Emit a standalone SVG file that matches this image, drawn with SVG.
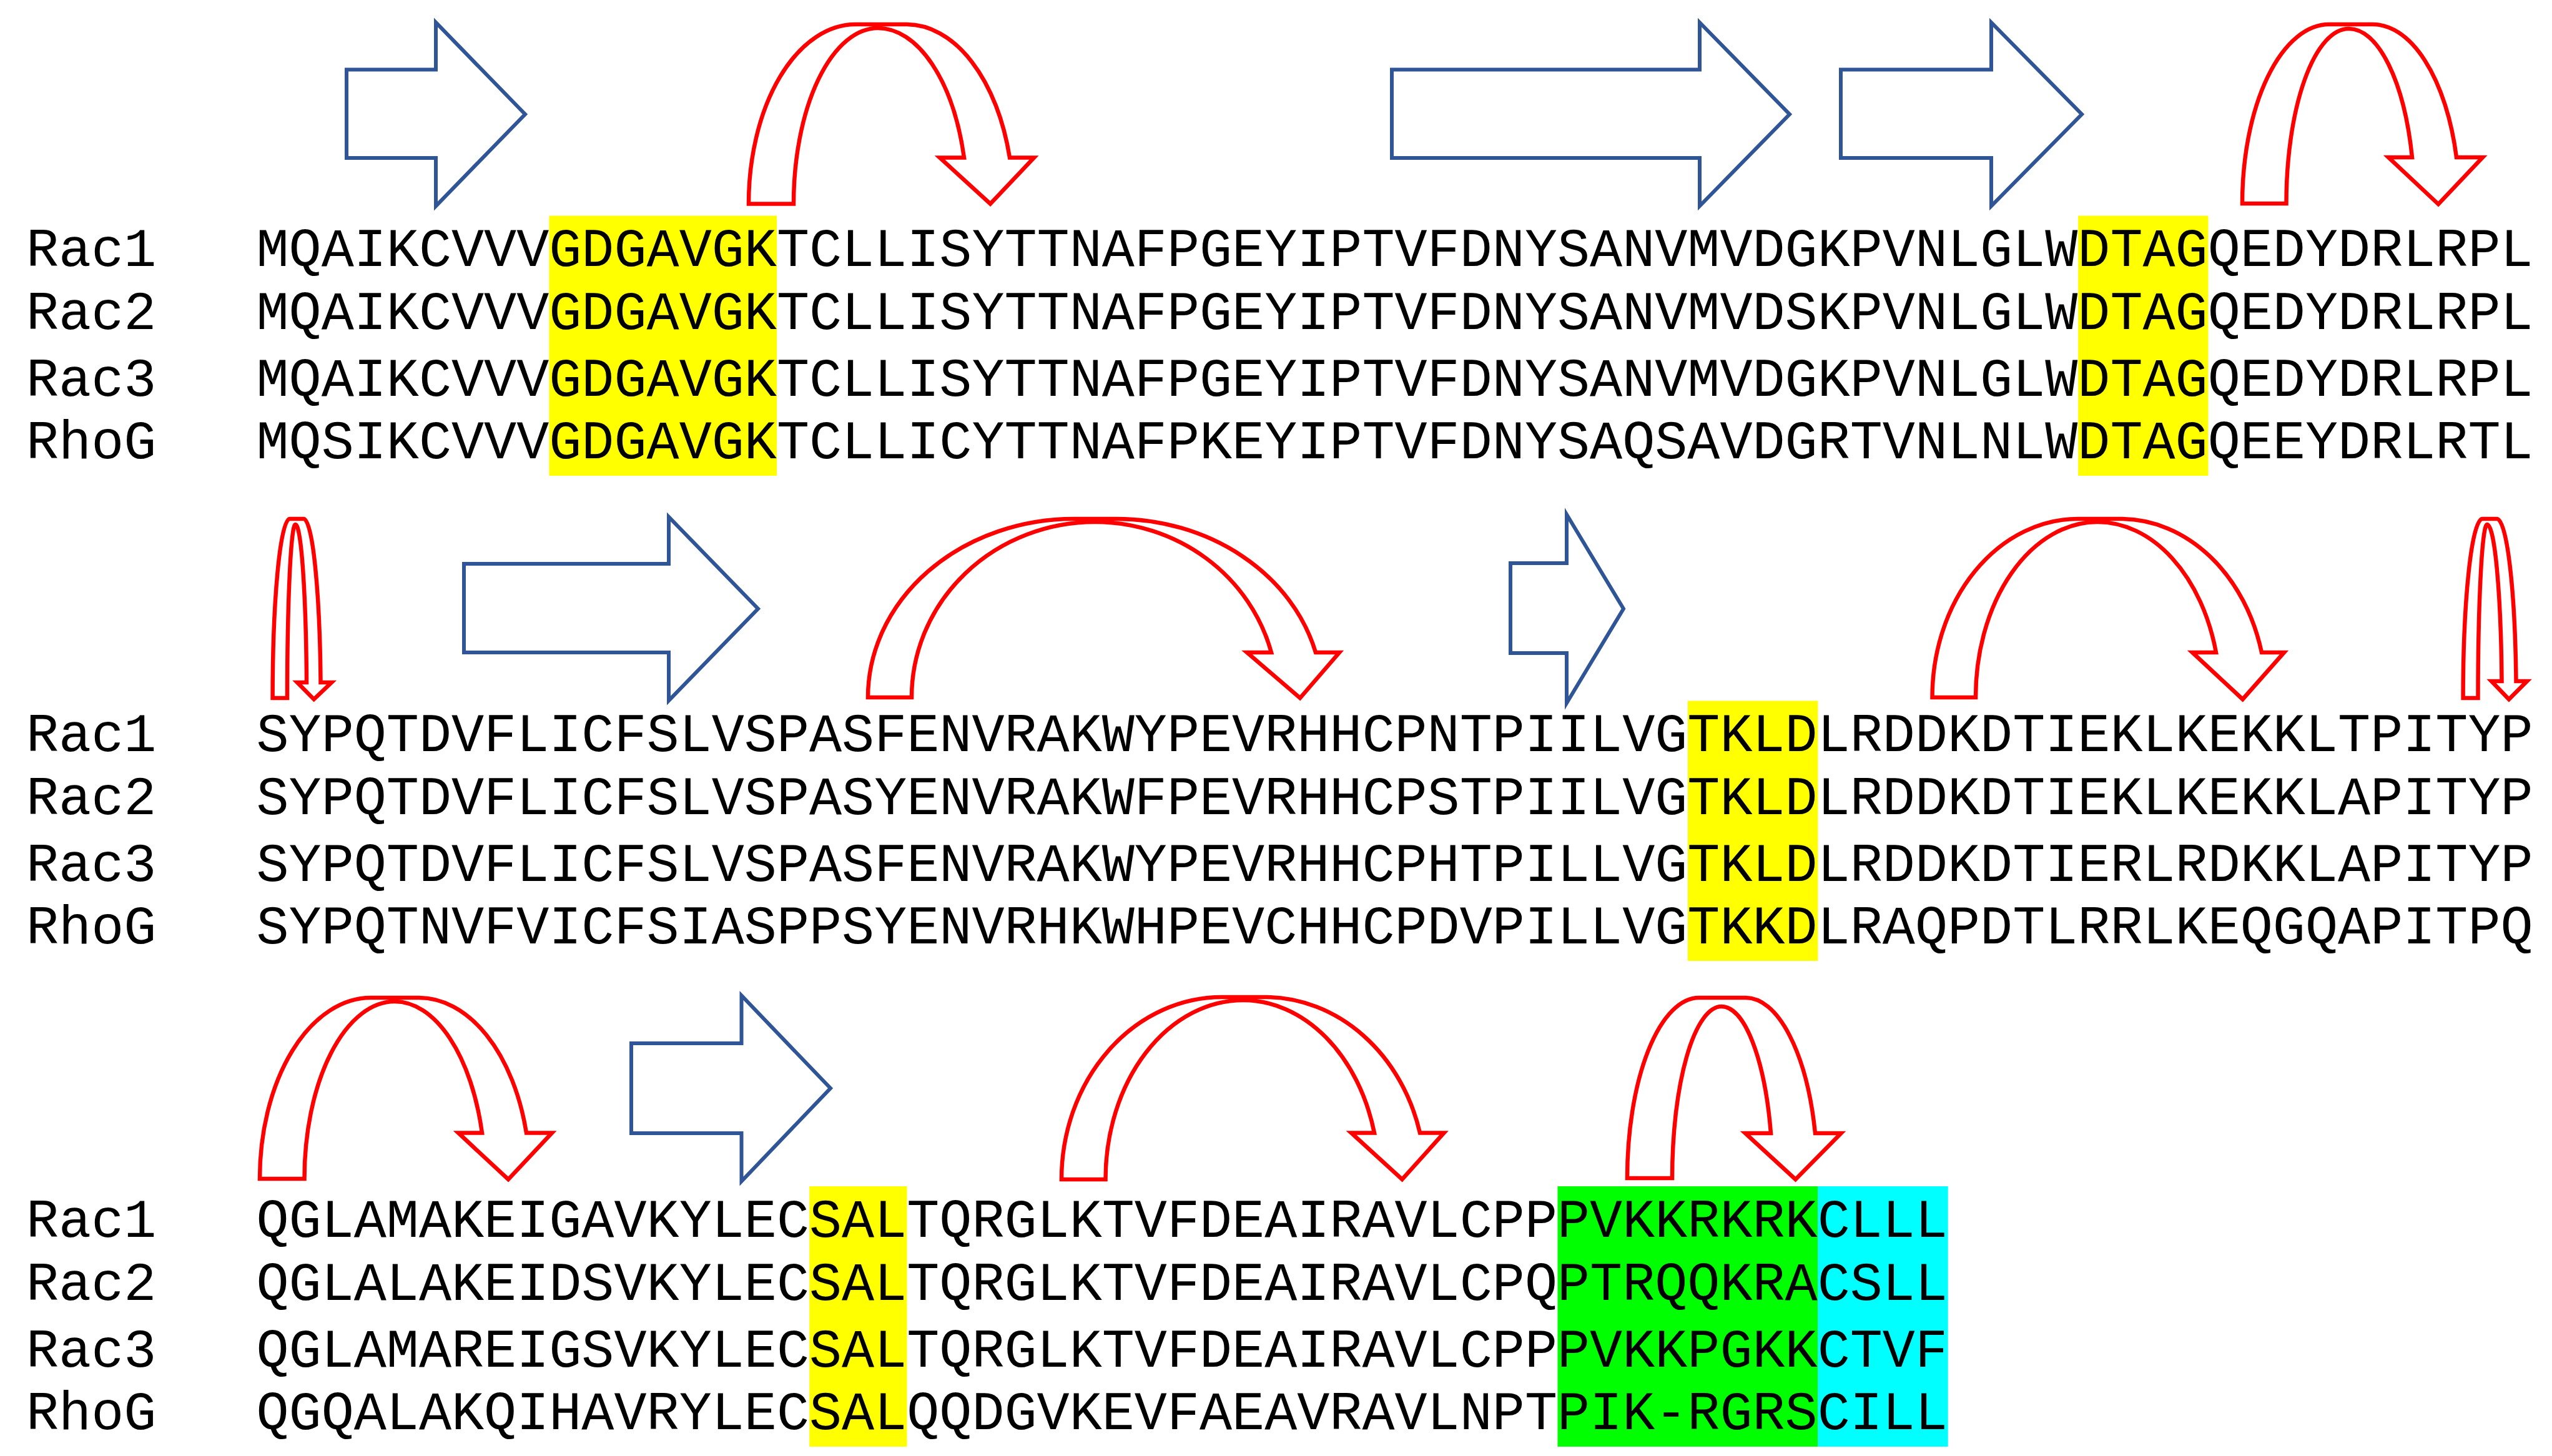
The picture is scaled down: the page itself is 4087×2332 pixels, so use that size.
<svg xmlns="http://www.w3.org/2000/svg" width="4087" height="2332" viewBox="0 0 4087 2332">
<style>
.t{font-family:"Liberation Mono","Courier New",monospace;font-size:86.8px;fill:#000}
.r{fill:#fff;stroke:#f00;stroke-width:6.5;stroke-linejoin:miter}
.b{fill:#fff;stroke:#2F5597;stroke-width:6;stroke-linejoin:miter}
.y{fill:#ff0}
.g{fill:#0f0}
.c{fill:#0ff}
</style>
<rect width="4087" height="2332" fill="#fff"/>
<g id="highlights">
<rect class="y" x="879.4" y="345.5" width="364.7" height="416.5"/>
<rect class="y" x="3328.1" y="345.5" width="208.4" height="416.5"/>
<rect class="y" x="2702.9" y="1122.5" width="208.4" height="416.5"/>
<rect class="y" x="1296.2" y="1900" width="156.3" height="417"/>
<rect class="g" x="2494.5" y="1900" width="416.8" height="417"/>
<rect class="c" x="2911.3" y="1900" width="208.4" height="417"/>
</g>
<g id="strands">
<polygon class="b" points="555,111.5 698,111.5 698,36 841,183 698,330 698,253 555,253"/>
<polygon class="b" points="2229,111.5 2722,111.5 2722,36 2866,183 2722,330 2722,253 2229,253"/>
<polygon class="b" points="2948,111.5 3189,111.5 3189,36 3334,183 3189,330 3189,253 2948,253"/>
<polygon class="b" points="743,903 1071,903 1071,828 1214,975 1071,1122 1071,1045 743,1045"/>
<polygon class="b" points="2419,902 2509,902 2509,824 2600,975 2509,1126 2509,1046 2419,1046"/>
<polygon class="b" points="1011,1671 1187.5,1671 1187.5,1594.5 1330,1743 1187.5,1892 1187.5,1815 1011,1815"/>
</g>
<g id="loops">
<path class="r" d="M1199,326.5 A171,287.5 0 0 1 1370,39 L1452,39 A171,287.5 0 0 1 1617,252.5 L1656,252.5 L1586,326.5 L1505,252.5 L1544,252.5 A143,281.5 0 0 0 1406,45 A135,281.5 0 0 0 1271,326.5 Z"/>
<path class="r" d="M3591,326 A139,287 0 0 1 3730,39 L3797,39 A139,287 0 0 1 3934,252 L3976,252 L3905,327 L3825,252 L3863,252 A105,280 0 0 0 3761.5,46 A100,280 0 0 0 3661.5,326 Z"/>
<path class="r" d="M436.6,1118 A27.4,287 0 0 1 464,831 L486.6,831 A27.4,287 0 0 1 513.5,1093 L531,1093 L502.7,1120 L476,1093 L491,1093 A18,278 0 0 0 473,840 A13,278 0 0 0 460,1118 Z"/>
<path class="r" d="M1390,1117 A330,286 0 0 1 1720,831 L1787.5,831 A330,286 0 0 1 2107,1045 L2145,1045 L2082,1118 L1997,1045 L2036,1045 A292,281 0 0 0 1753.6,836 A293.6,281 0 0 0 1460,1117 Z"/>
<path class="r" d="M3094.5,1117 A233.5,286 0 0 1 3328,831 L3399,831 A233.5,286 0 0 1 3622,1045 L3658,1045 L3591.6,1120 L3511,1045 L3549,1045 A196.6,281 0 0 0 3359,836 A195,281 0 0 0 3164,1117 Z"/>
<path class="r" d="M3944.6,1118 A30.9,287 0 0 1 3975.5,831 L3998.5,831 A30.9,287 0 0 1 4029.5,1091 L4047,1091 L4018,1120 L3990,1091 L4006.5,1091 A23.6,278 0 0 0 3983,840 A14.5,278 0 0 0 3968.5,1118 Z"/>
<path class="r" d="M416,1888 A178,290 0 0 1 594,1598 L670,1598 A178,290 0 0 1 843,1814.5 L884,1814.5 L814,1889 L734,1814.5 L772,1814.5 A145,284 0 0 0 632,1604 A144.5,284 0 0 0 487.5,1888 Z"/>
<path class="r" d="M1700,1889 A257,292 0 0 1 1957,1597 L2028.6,1597 A257,292 0 0 1 2274,1814.5 L2312.5,1814.5 L2245.5,1889 L2164,1814.5 L2201,1814.5 A217.5,287 0 0 0 1991,1602 A220.5,287 0 0 0 1770.5,1889 Z"/>
<path class="r" d="M2606,1887 A115,289 0 0 1 2721,1598 L2795,1598 A115,289 0 0 1 2907,1815 L2948.5,1815 L2875.5,1889 L2795,1815 L2836,1815 A82,275 0 0 0 2757,1612 A79,275 0 0 0 2678,1887 Z"/>
</g>
<g id="block1">
<text class="t" x="42" y="426">Rac1</text>
<text class="t" x="42" y="527">Rac2</text>
<text class="t" x="42" y="634">Rac3</text>
<text class="t" x="42" y="734">RhoG</text>
<text class="t" x="410.5" y="426">MQAIKCVVVGDGAVGKTCLLISYTTNAFPGEYIPTVFDNYSANVMVDGKPVNLGLWDTAGQEDYDRLRPL</text>
<text class="t" x="410.5" y="527">MQAIKCVVVGDGAVGKTCLLISYTTNAFPGEYIPTVFDNYSANVMVDSKPVNLGLWDTAGQEDYDRLRPL</text>
<text class="t" x="410.5" y="634">MQAIKCVVVGDGAVGKTCLLISYTTNAFPGEYIPTVFDNYSANVMVDGKPVNLGLWDTAGQEDYDRLRPL</text>
<text class="t" x="410.5" y="734">MQSIKCVVVGDGAVGKTCLLICYTTNAFPKEYIPTVFDNYSAQSAVDGRTVNLNLWDTAGQEEYDRLRTL</text>
</g>
<g id="block2">
<text class="t" x="42" y="1203">Rac1</text>
<text class="t" x="42" y="1304">Rac2</text>
<text class="t" x="42" y="1411">Rac3</text>
<text class="t" x="42" y="1511">RhoG</text>
<text class="t" x="410.5" y="1203">SYPQTDVFLICFSLVSPASFENVRAKWYPEVRHHCPNTPIILVGTKLDLRDDKDTIEKLKEKKLTPITYP</text>
<text class="t" x="410.5" y="1304">SYPQTDVFLICFSLVSPASYENVRAKWFPEVRHHCPSTPIILVGTKLDLRDDKDTIEKLKEKKLAPITYP</text>
<text class="t" x="410.5" y="1411">SYPQTDVFLICFSLVSPASFENVRAKWYPEVRHHCPHTPILLVGTKLDLRDDKDTIERLRDKKLAPITYP</text>
<text class="t" x="410.5" y="1511">SYPQTNVFVICFSIASPPSYENVRHKWHPEVCHHCPDVPILLVGTKKDLRAQPDTLRRLKEQGQAPITPQ</text>
</g>
<g id="block3">
<text class="t" x="42" y="1980.5">Rac1</text>
<text class="t" x="42" y="2081.5">Rac2</text>
<text class="t" x="42" y="2188.5">Rac3</text>
<text class="t" x="42" y="2288.5">RhoG</text>
<text class="t" x="410.5" y="1980.5">QGLAMAKEIGAVKYLECSALTQRGLKTVFDEAIRAVLCPPPVKKRKRKCLLL</text>
<text class="t" x="410.5" y="2081.5">QGLALAKEIDSVKYLECSALTQRGLKTVFDEAIRAVLCPQPTRQQKRACSLL</text>
<text class="t" x="410.5" y="2188.5">QGLAMAREIGSVKYLECSALTQRGLKTVFDEAIRAVLCPPPVKKPGKKCTVF</text>
<text class="t" x="410.5" y="2288.5">QGQALAKQIHAVRYLECSALQQDGVKEVFAEAVRAVLNPTPIK-RGRSCILL</text>
</g>
</svg>
